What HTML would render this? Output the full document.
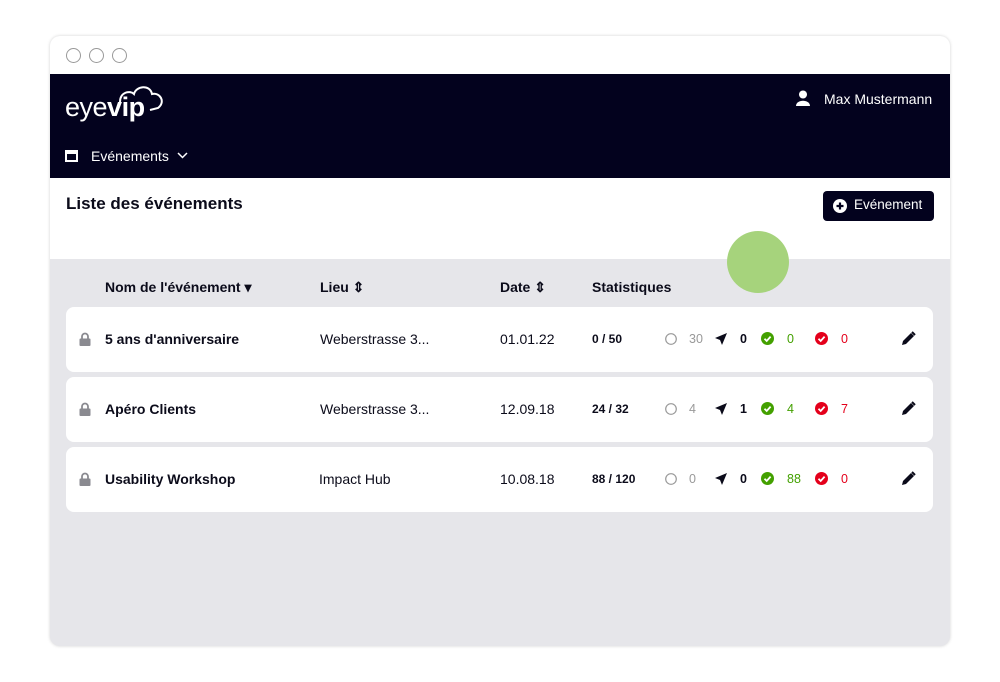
<!DOCTYPE html>
<html><head><meta charset="utf-8"><style>
*{margin:0;padding:0;box-sizing:border-box}
body{width:1000px;height:682px;background:#fff;font-family:"Liberation Sans",sans-serif;position:relative;overflow:hidden;color:#0b0b1a}
.abs{position:absolute}
.win{left:50px;top:36px;width:900px;height:610px;border-radius:10px;overflow:hidden;box-shadow:0 0 3px rgba(0,0,0,.18);background:#e6e6ea}
.dot{width:15px;height:15px;border:1.3px solid #999;border-radius:50%;top:12px}
.row{left:16px;width:867px;height:65px;background:#fff;border-radius:8px}
.t{position:absolute;font-size:14px;white-space:nowrap}
.b{font-weight:bold}
</style></head><body>
<div class="abs win">
 <div class="abs" style="left:0;top:0;width:900px;height:38px;background:#fff">
  <div class="abs dot" style="left:16px"></div>
  <div class="abs dot" style="left:39px"></div>
  <div class="abs dot" style="left:62px"></div>
 </div>
 <div class="abs" style="left:0;top:38px;width:900px;height:104px;background:#03021e">
  <div class="abs" style="left:15px;top:18px;color:#fff;font-size:27px;letter-spacing:-0.5px">eye<b>vip</b></div>
  <svg class="abs" style="left:66px;top:10px" width="50" height="32"><path d="M4 18 C4 8 14 6 18 10 C20 2 34 0 36 10 C44 8 50 18 42 24 L34 26" fill="none" stroke="#fff" stroke-width="2"/></svg>
  <svg class="abs" style="left:746px;top:16px" width="14" height="16"><circle cx="7" cy="4.5" r="4" fill="#fff"/><path d="M0 16 C0 9 14 9 14 16Z" fill="#fff"/></svg>
  <div class="t" style="left:774px;top:17px;color:#fff">Max Mustermann</div>
  <svg class="abs" style="left:15px;top:75px" width="13" height="13"><rect x="1" y="2" width="11" height="10" fill="none" stroke="#fff" stroke-width="2"/><rect x="1" y="2" width="11" height="3" fill="#fff"/></svg>
  <div class="t" style="left:41px;top:74px;color:#fff">Evénements</div>
  <svg class="abs" style="left:127px;top:78px" width="11" height="7"><path d="M1 1 L5.5 5.5 L10 1" fill="none" stroke="#fff" stroke-width="1.5"/></svg>
 </div>
 <div class="abs" style="left:0;top:142px;width:900px;height:81px;background:#fff">
  <div class="t b" style="left:16px;top:16px;font-size:17px">Liste des événements</div>
  <div class="abs" style="left:773px;top:13px;width:111px;height:30px;background:#03021e;border-radius:4px">
   <svg class="abs" style="left:10px;top:8px" width="14" height="14"><circle cx="7" cy="7" r="7" fill="#fff"/><path d="M7 3.5V10.5M3.5 7H10.5" stroke="#03021e" stroke-width="2.2"/></svg>
   <div class="t" style="left:31px;top:6px;color:#fff;font-size:13.5px">Evénement</div>
  </div>
 </div>
 <div class="abs" style="left:677px;top:195px;width:62px;height:62px;border-radius:50%;background:#a6d37c"></div>
 <div class="t b" style="left:55px;top:243px">Nom de l'événement ▾</div>
 <div class="t b" style="left:270px;top:243px">Lieu ⇕</div>
 <div class="t b" style="left:450px;top:243px">Date ⇕</div>
 <div class="t b" style="left:542px;top:243px">Statistiques</div>

 <div class="abs row" style="top:271px"></div>
 <div class="abs row" style="top:341px"></div>
 <div class="abs row" style="top:411px"></div>
 <div id="rows"></div>
</div>
<script>
const names=["5 ans d'anniversaire","Apéro Clients","Usability Workshop"];
const places=["Weberstrasse 3...","Weberstrasse 3...","Impact Hub"];
const dates=["01.01.22","12.09.18","10.08.18"];
const ratio=["0 / 50","24 / 32","88 / 120"];
const open=[30,4,0],sent=[0,1,0],yes=[0,4,88],no=[0,7,0];
const win=document.querySelector('.win');
for(let i=0;i<3;i++){
 const y=271+i*70;
 const g=document.createElement('div');
 
 
 g.innerHTML=
 `<svg class="abs" style="left:29px;top:${y+25}px" width="12" height="14"><path d="M3 7V4.5a3 3 0 0 1 6 0V7" fill="none" stroke="#8a8a90" stroke-width="1.8"/><rect x="0.5" y="6.5" width="11" height="7.5" rx="1" fill="#8a8a90"/></svg>`+
 `<div class="t b" style="left:55px;top:${y+24}px">${names[i]}</div>`+
 `<div class="t" style="left:${i==2?269:270}px;top:${y+24}px">${places[i]}</div>`+
 `<div class="t" style="left:450px;top:${y+24}px">${dates[i]}</div>`+
 `<div class="t b" style="left:542px;top:${y+25}px;font-size:12px">${ratio[i]}</div>`+
 `<svg class="abs" style="left:615px;top:${y+26}px" width="12" height="12"><circle cx="6" cy="6" r="5.3" fill="none" stroke="#999" stroke-width="1.2"/></svg>`+
 `<div class="t" style="left:639px;top:${y+25}px;font-size:12.5px;color:#999">${open[i]}</div>`+
 `<svg class="abs" style="left:664px;top:${y+25}px" width="14" height="14"><path d="M13 1 L1 6 L6 8 L8 13Z" fill="#0b0b1a"/></svg>`+
 `<div class="t b" style="left:690px;top:${y+25}px;font-size:12.5px">${sent[i]}</div>`+
 `<svg class="abs" style="left:711px;top:${y+25}px" width="13" height="13"><circle cx="6.5" cy="6.5" r="6.5" fill="#43a000"/><path d="M3.5 6.8L5.7 9L9.6 4.6" fill="none" stroke="#fff" stroke-width="1.8"/></svg>`+
 `<div class="t" style="left:737px;top:${y+25}px;font-size:12.5px;color:#43a000">${yes[i]}</div>`+
 `<svg class="abs" style="left:765px;top:${y+25}px" width="13" height="13"><circle cx="6.5" cy="6.5" r="6.5" fill="#e4001b"/><path d="M3.5 6.8L5.7 9L9.6 4.6" fill="none" stroke="#fff" stroke-width="1.8"/></svg>`+
 `<div class="t" style="left:791px;top:${y+25}px;font-size:12.5px;color:#e4001b">${no[i]}</div>`+
 `<svg class="abs" style="left:851px;top:${y+24}px" width="15" height="15"><path d="M1 14 L2 10 L10 2 L13 5 L5 13Z" fill="#0b0b1a"/><path d="M11 1 L14 4" stroke="#0b0b1a" stroke-width="2"/></svg>`;
 win.appendChild(g);
}
</script>
</body></html>
